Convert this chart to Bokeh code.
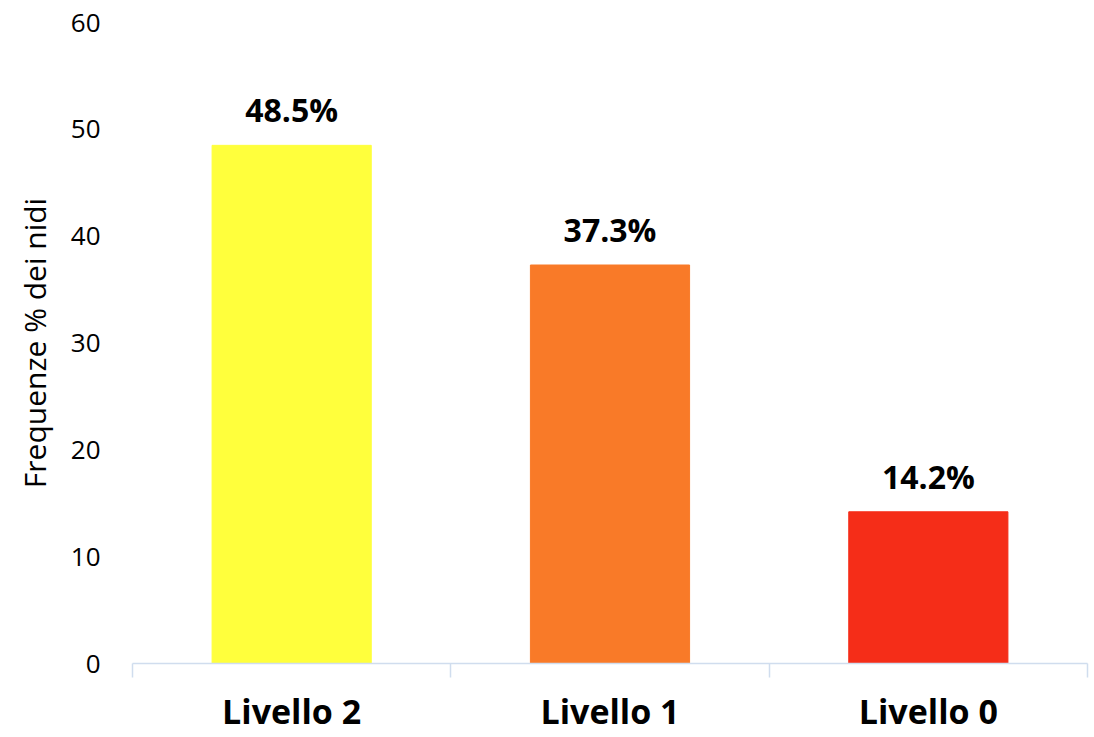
from bokeh.plotting import figure
from bokeh.models import ColumnDataSource, FixedTicker, Range1d
from bokeh.core.properties import value
from bokeh.embed import file_html
from bokeh.resources import INLINE

categories = ["Livello 2", "Livello 1", "Livello 0"]
values = [48.5, 37.3, 14.2]
colors = ["#FFFF3C", "#F97A28", "#F52D18"]
labels = ["48.5%", "37.3%", "14.2%"]
y_ticks = [0, 10, 20, 30, 40, 50, 60]

xs = [i + 0.5 for i in range(len(categories))]
src = ColumnDataSource(dict(x=xs, top=values, color=colors, label=labels))

p = figure(width=1094, height=737, output_backend="svg", toolbar_location=None,
           x_range=Range1d(0, len(categories)), y_range=Range1d(0, 60),
           min_border_left=132, min_border_right=7, min_border_top=22, min_border_bottom=74)
p.outline_line_color = None
p.xgrid.grid_line_color = None
p.ygrid.grid_line_color = None

p.vbar(x="x", top="top", width=0.5, bottom=0, color="color", source=src)
p.text(x="x", y="top", text="label", source=src, text_align="center", text_baseline="bottom",
       y_offset=-14, text_font=value("Open Sans"), text_font_style="bold",
       text_font_size="32px", text_color="#000000")

xa = p.xaxis[0]
xa.ticker = FixedTicker(ticks=xs, minor_ticks=list(range(len(categories) + 1)))
xa.major_label_overrides = {x: c for x, c in zip(xs, categories)}
xa.major_tick_line_color = None
xa.minor_tick_line_color = "#D0DDEE"
xa.minor_tick_out = 14
xa.minor_tick_in = 0
xa.axis_line_color = "#D0DDEE"
xa.axis_line_width = 1.5
xa.minor_tick_line_width = 1.5
xa.major_label_text_font = "Open Sans"
xa.major_label_text_font_style = "bold"
xa.major_label_text_font_size = "34px"
xa.major_label_text_color = "#000000"
xa.major_label_standoff = 10

ya = p.yaxis[0]
ya.ticker = FixedTicker(ticks=y_ticks)
ya.axis_line_color = None
ya.major_tick_line_color = None
ya.minor_tick_line_color = None
ya.major_label_text_font = "Open Sans"
ya.major_label_text_font_size = "26px"
ya.major_label_text_color = "#000000"
ya.major_label_standoff = 26
ya.axis_label = "Frequenze % dei nidi"
ya.axis_label_text_font = "Open Sans"
ya.axis_label_text_font_style = "normal"
ya.axis_label_text_font_size = "30px"
ya.axis_label_text_color = "#000000"
ya.axis_label_standoff = 13

open("out.html", "w").write(file_html(p, INLINE))
